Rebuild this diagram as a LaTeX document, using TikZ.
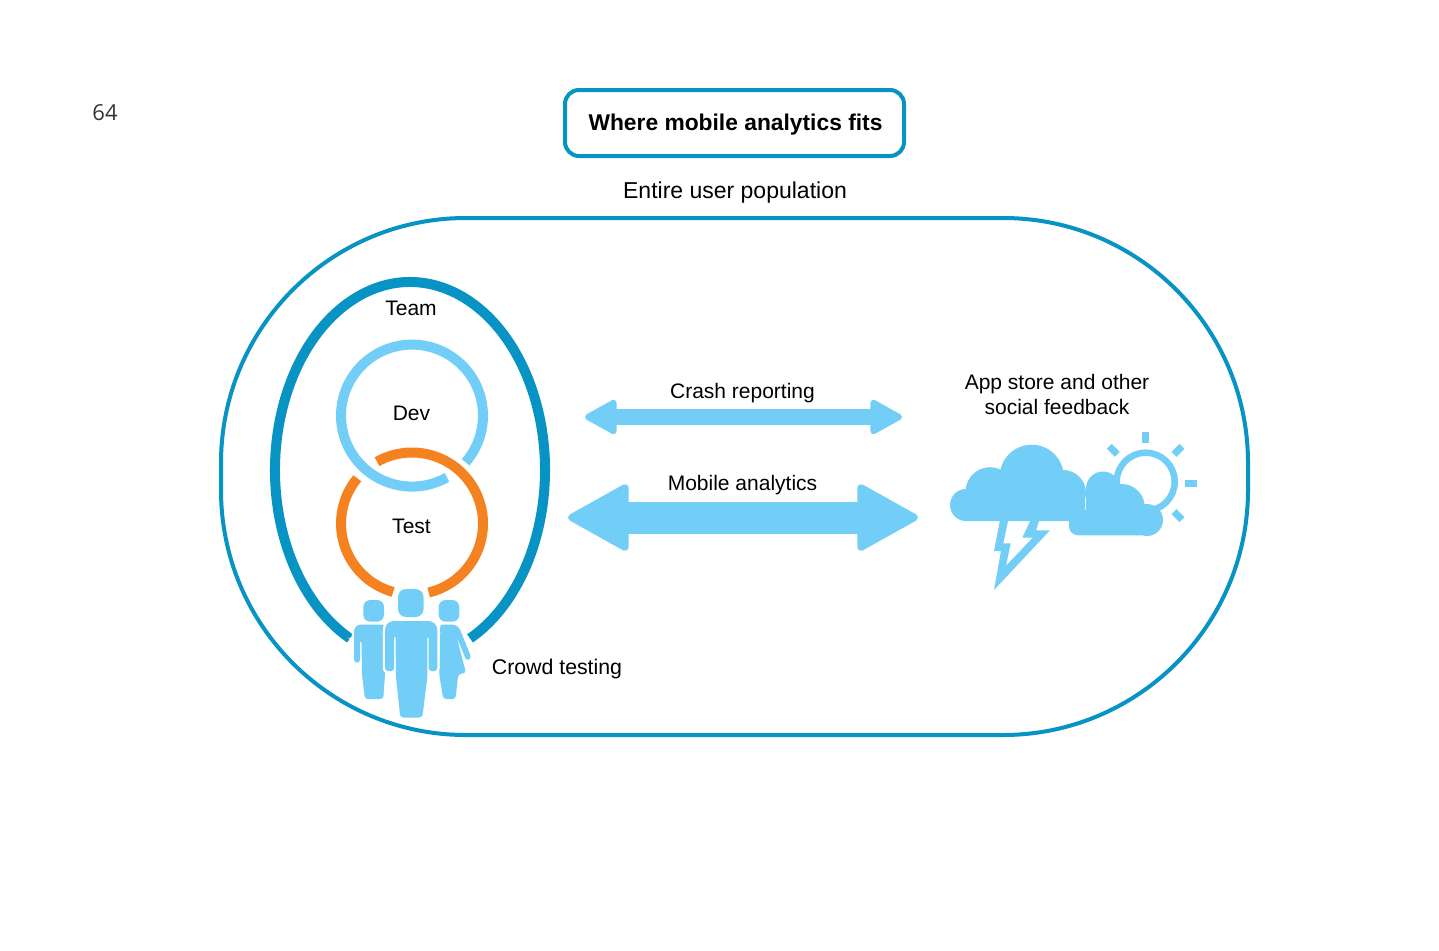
\documentclass[tikz,border=0pt]{standalone}
\usepackage{fontspec}
\setmainfont{Liberation Sans}
\newfontfamily\pagefont{Open Sans}
\usetikzlibrary{arrows.meta}
\definecolor{ocean}{HTML}{0793C3}
\definecolor{sky}{HTML}{72CEF7}
\definecolor{tang}{HTML}{F58220}
\tikzset{
  lbl/.style={font=\fontsize{21}{25}\selectfont, align=center, text=black, inner sep=0pt},
  ring/.style={line width=10pt},
  ray/.style={draw=sky, line width=7pt},
  person/.style={fill=sky, rounded corners=3pt, preaction={draw=white, line width=4.5pt}},
  cloudfill/.style={fill=sky},
  slimarr/.style={{Triangle[length=35pt, width=37pt, line width=6pt, round]}-{Triangle[length=35pt, width=37pt, line width=6pt, round]},
                  draw=sky, line width=16.5pt},
  widearr/.style={{Triangle[length=64.5pt, width=70pt, line width=7pt, round]}-{Triangle[length=64.5pt, width=70pt, line width=7pt, round]},
                  draw=sky, line width=32pt},
}
\begin{document}
\begin{tikzpicture}[x=1pt,y=-1pt]
  \useasboundingbox (0,0) rectangle (1439,950);
  % page number and title
  \node[inner sep=0pt, text=black!80, font=\pagefont\fontsize{22}{26}\selectfont] (pageno) at (105,112.5) {64};
  \node[draw=ocean, line width=4pt, rounded corners=14pt, minimum width=339pt, minimum height=66pt,
        inner sep=0pt] (title) at (734.5,123) {};
  \node[inner sep=0pt, font=\bfseries\fontsize{22.8}{26}\selectfont] (titletext) at (735.5,124.5) {Where mobile analytics fits};
  \node[lbl, font=\fontsize{23}{26}\selectfont] (entire) at (735,193) {Entire user population};
  \node[draw=ocean, line width=4pt, rounded corners=245pt, minimum width=1027pt, minimum height=517pt,
        inner sep=0pt] (population) at (734.5,476.5) {};
  % team ring
  \coordinate (teamc) at (410,470);
  \draw[ocean, ring] ([shift={(-63.6:135pt and 188pt)}]teamc) arc[start angle=-63.6, end angle=243.6, x radius=135pt, y radius=188pt];
  \node[lbl] (team) at (411,308) {Team};
  % dev and test
  \coordinate (devc) at (412,415.6);
  \coordinate (testc) at (412,523.5);
  \draw[sky, ring] ([shift={(-41:71pt)}]devc) arc[start angle=-41, end angle=299.5, radius=71pt];
  \draw[tang, ring] ([shift={(-76.4:71pt)}]testc) arc[start angle=-76.4, end angle=119.5, radius=71pt];
  \draw[tang, ring] ([shift={(140.4:71pt)}]testc) arc[start angle=140.4, end angle=254.6, radius=71pt];
  \node[lbl] (dev) at (411.5,413.5) {Dev};
  \node[lbl] (test) at (411.5,526) {Test};
  % crowd
  \fill[sky, rounded corners=7pt] (363.3,600) rectangle (384,621.7);
  \fill[sky, rounded corners=7pt] (438.7,600) rectangle (459.3,621.7);
  \path[person] (354,662.7) [rounded corners=7pt] -- (354,624.5) [rounded corners=3pt] -- (385,624.5) -- (385,675) -- (383.3,699) -- (365,699)
    -- (362,675) -- (361.5,640) -- (360,640) -- (360,662.7) -- cycle;
  \path[person] (440,624.5) [rounded corners=6pt] -- (458,624.5) [rounded corners=3pt] -- (471.5,658) -- (466.5,661) -- (456.7,637) -- (466,673)
    -- (458.3,674) -- (455.5,699) -- (443.3,699) -- (439.3,675) -- cycle;
  \fill[sky, rounded corners=8pt] (398,589) rectangle (423.5,617);
  \path[person] (385,671) [rounded corners=9pt] -- (385,621) -- (437.3,621) [rounded corners=3pt] -- (437.3,671) -- (428.5,671) -- (428.5,635)
    -- (427.5,635) -- (427.3,677) -- (422.3,717.5) -- (400.3,717.5) -- (396,677) -- (395.5,635) -- (394,635) -- (394,671) -- cycle;
  \node[lbl, font=\fontsize{21.3}{25}\selectfont] (crowd) at (557,669) {Crowd testing};
  % two way arrows
  \coordinate (crashL) at (585,417);
  \coordinate (crashR) at (902,417);
  \coordinate (mobileL) at (568,517.5);
  \coordinate (mobileR) at (918,517.5);
  \draw[slimarr] (crashL) -- (crashR);
  \draw[widearr] (mobileL) -- (mobileR);
  \node[lbl] (crash) at (742.5,393) {Crash reporting};
  \node[lbl] (mobile) at (742.5,485) {Mobile analytics};
  % feedback
  \node[lbl] (feedback) at (1057,394.5) {App store and other\\social feedback};
  \coordinate (sun) at (1145.7,481.7);
  \draw[sky, line width=6.5pt] (sun) circle[radius=29pt];
  \draw[ray] (1145.7,432) -- (1145.7,443);
  \draw[ray] (1185.3,483) -- (1196.7,483);
  \draw[ray] (1182,446.3) -- (1174,454.3);
  \draw[ray] (1109.3,446.3) -- (1117.3,454.3);
  \draw[ray] (1182,519.7) -- (1174,511.7);
  \fill[cloudfill] (966,505) circle[radius=16pt] (990,491.7) circle[radius=24.5pt]
    (1031.7,476.7) circle[radius=32pt] (1063,493) circle[radius=23pt]
    (966,489) rectangle (1085,521);
  \fill[cloudfill, rounded corners=9pt] (1069,510) rectangle (1150,535.3);
  \fill[cloudfill] (1086,488) rectangle (1112,522);
  \fill[cloudfill] (1147,520) circle[radius=16pt] (1121.7,507) circle[radius=23pt] (1103,488.5) circle[radius=17pt];
  \fill[cloudfill, even odd rule] (1000,520) -- (994,551) -- (1001,551) -- (994,590) -- (1050,530.3)
    -- (1036,530.3) -- (1039.3,520) -- (1030.7,520) -- (1022.3,537.7) -- (1032.7,537.7) -- (1006,565.7)
    -- (1010.7,543.3) -- (1003.3,543.3) -- (1008.3,520) -- cycle;
\end{tikzpicture}
\end{document}
